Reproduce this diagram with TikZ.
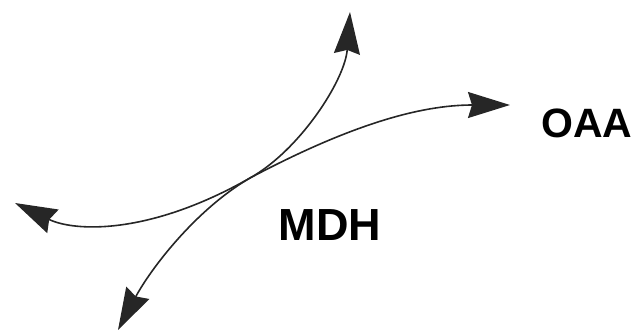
\documentclass[tikz,border=0pt]{standalone}
\usepackage{fontspec}
\setmainfont{Liberation Sans}
\usetikzlibrary{arrows.meta}
\tikzset{
  flux/.style={line width=1.6pt, draw=black!85,
    {Stealth[length=42pt,width=26pt,inset=4pt]}-{Stealth[length=42pt,width=26pt,inset=4pt]}},
  lbl/.style={font=\bfseries, inner sep=0pt, text=black}
}
\begin{document}
\begin{tikzpicture}[x=1pt,y=-1pt]
\useasboundingbox (0,0) rectangle (640,332);
\coordinate (left) at (15,203);
\coordinate (right) at (510,105);
\coordinate (bottom) at (118,330);
\coordinate (top) at (350,12);
\coordinate (mid) at (250,178);
\draw[flux] (left) .. controls (75,232) and (150,235) .. (mid)
  .. controls (350,125) and (420,105) .. (right);
\draw[flux] (bottom) .. controls (150,270) and (195,210) .. (mid)
  .. controls (300,150) and (345,80) .. (top);
\node[lbl, font=\fontsize{41}{41}\selectfont\bfseries, anchor=base west] (oaa) at (541,137) {OAA};
\node[lbl, font=\fontsize{45}{45}\selectfont\bfseries, anchor=base] (mdh) at (330,240) {MDH};
\end{tikzpicture}
\end{document}
